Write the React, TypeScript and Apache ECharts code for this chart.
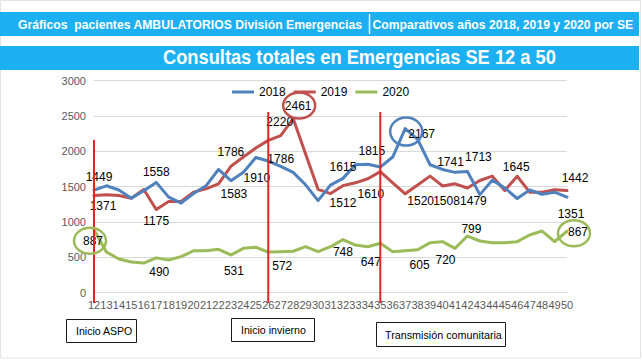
import React, { useEffect, useRef } from 'react';
import * as echarts from 'echarts';

// ---- data ----
const categories = ['12', '13', '14', '15', '16', '17', '18', '19', '20', '21', '22', '23', '24', '25', '26', '27', '28', '29', '30', '31', '32', '33', '34', '35', '36', '37', '38', '39', '40', '41', '42', '43', '44', '45', '46', '47', '48', '49', '50'];
const s2018 = [1449, 1510, 1450, 1335, 1440, 1558, 1350, 1265, 1400, 1510, 1741, 1583, 1700, 1910, 1860, 1786, 1700, 1524, 1300, 1520, 1615, 1808, 1815, 1775, 1917, 2320, 2167, 1808, 1741, 1700, 1713, 1385, 1590, 1480, 1330, 1450, 1390, 1420, 1351];
const s2019 = [1371, 1382, 1372, 1335, 1458, 1175, 1287, 1287, 1420, 1467, 1538, 1786, 1917, 2044, 2153, 2220, 2461, 1960, 1460, 1400, 1512, 1552, 1610, 1710, 1552, 1396, 1520, 1647, 1508, 1538, 1479, 1585, 1647, 1443, 1645, 1420, 1420, 1453, 1442];
const s2020 = [887, 573, 474, 432, 417, 490, 460, 507, 591, 591, 611, 531, 625, 640, 572, 577, 584, 648, 577, 648, 748, 672, 647, 696, 577, 592, 605, 705, 720, 625, 799, 729, 705, 705, 719, 814, 870, 719, 867];
const seriesNames = ['2018', '2019', '2020'];
const yMin = 0;
const yMax = 3000;
const yStep = 500;

const headerLeft = 'Gráficos  pacientes AMBULATORIOS División Emergencias';
const headerRight = 'Comparativos años 2018, 2019 y 2020 por SE';
const titleText = 'Consultas totales en Emergencias SE 12 a 50';
const markerCats = ['12', '26', '35'];
const markerNotes = ['Inicio ASPO', 'Inicio invierno', 'Transmisión comunitaria'];

// ---- styling / placement (not data) ----
const FONT = '"Liberation Sans", Arial, Helvetica, sans-serif';
const COLORS = ['#4f81bd', '#c0504d', '#9bbb59'];
const BAND = '#1cb0f2';

const labelOffsets: Record<string, [number, number]>[] = [
  { '12': [5, -13], '17': [0, -10], '23': [3, 13], '25': [1, 20], '27': [0, -7], '32': [0, -11], '34': [4, -13], '38': [4, -5], '40': [8, -7], '42': [11, -14], '50': [4, 17] },
  { '12': [9, 10], '17': [0, 12], '23': [0, -14], '27': [-1, -14], '28': [5, -13], '32': [0, 17], '34': [3, 15], '38': [3, 16], '40': [4, 15], '42': [6, 13], '46': [-1, -9], '50': [8, -13] },
  { '12': [-1, 11], '17': [3, 14], '23': [3, 16], '26': [14, 14], '32': [0, 12], '34': [3, 15], '38': [2, 15], '40': [3, 18], '42': [4, -7], '50': [11, 1] },
];
const markerTops = [140, 112, 112]; // pixel y of red markers' top
const markerBottom = 303;
const noteBoxes = [
  { x: 66, y: 319, w: 70, h: 23, tx: 76, tw: 57 },
  { x: 231, y: 318, w: 83, h: 23, tx: 241, tw: 65 },
  { x: 376, y: 322, w: 129, h: 24, tx: 385, tw: 117 },
];
const circles = [
  { s: 2, cat: '12', dx: -4, dy: 11, rx: 16, ry: 13 },
  { s: 1, cat: '28', dx: 6, dy: -13, rx: 16, ry: 13 },
  { s: 0, cat: '37', dx: 1, dy: 3, rx: 16, ry: 14 },
  { s: 2, cat: '50', dx: 7, dy: 2, rx: 16, ry: 13 },
];

const allSeries = [s2018, s2019, s2020];

function measure(text: string, font: string): number {
  const c = document.createElement('canvas').getContext('2d');
  if (!c) return text.length * 7;
  c.font = font;
  return c.measureText(text).width;
}

function fitText(text: string, left: number, width: number, cy: number, size: number, weight: string, color: string, z: number) {
  const w = measure(text, `${weight} ${size}px "Liberation Sans"`);
  const s = w > 0 ? width / w : 1;
  return {
    type: 'text',
    x: left,
    y: cy,
    scaleX: s,
    z,
    style: { text, x: 0, y: 0, fill: color, fontSize: size, fontWeight: weight, fontFamily: FONT, align: 'left', verticalAlign: 'middle' },
  };
}

export default function App() {
  const ref = useRef<HTMLDivElement>(null);
  useEffect(() => {
    if (!ref.current) return;
    const chart = echarts.init(ref.current, null, { renderer: 'svg' });
    const series = allSeries.map((arr, si) => ({
      type: 'line',
      name: seriesNames[si],
      data: arr.map((v, i) => {
        const off = labelOffsets[si][categories[i]];
        return off ? { value: v, label: { show: true, offset: off } } : v;
      }),
      symbol: 'circle',
      symbolSize: 2,
      showSymbol: true,
      showAllSymbol: true,
      itemStyle: { color: COLORS[si] },
      lineStyle: { width: 3, color: COLORS[si], cap: 'round', join: 'round' },
      label: { show: false, position: 'inside', color: '#000', fontSize: 12, fontFamily: FONT },
      emphasis: { disabled: true },
      z: 3 - si,
    }));
    chart.setOption({
      animation: false,
      backgroundColor: '#ffffff',
      grid: { left: 94, right: 75, top: 80.5, bottom: 67.5, containLabel: false },
      legend: {
        left: 227,
        top: 81,
        icon: 'rect',
        itemWidth: 22,
        itemHeight: 3,
        itemGap: 8,
        textStyle: { fontSize: 12, color: '#000', fontFamily: FONT },
        data: seriesNames,
      },
      xAxis: {
        type: 'category',
        boundaryGap: false,
        data: categories,
        axisLine: { lineStyle: { color: '#d9d9d9' } },
        axisTick: { show: false },
        axisLabel: { interval: 0, fontSize: 11, color: '#595959', margin: 7, fontFamily: FONT },
      },
      yAxis: {
        type: 'value',
        min: yMin,
        max: yMax,
        interval: yStep,
        axisLine: { show: false },
        axisTick: { show: false },
        axisLabel: { fontSize: 11, color: '#595959', margin: 8, fontFamily: FONT, formatter: (v: number) => String(v) },
        splitLine: { lineStyle: { color: '#d9d9d9' } },
      },
      series,
    });

    const px = (cat: string, v: number) => chart.convertToPixel({ gridIndex: 0 } as any, [categories.indexOf(cat), v]) as number[];
    const g: any[] = [];
    g.push({ type: 'rect', shape: { x: 0.5, y: 0.5, width: 640, height: 357.5 }, style: { fill: 'none', stroke: '#e3e3e3', lineWidth: 1 }, z: 1 });
    g.push({ type: 'rect', shape: { x: 0, y: 12, width: 639, height: 24 }, style: { fill: BAND }, z: 10 });
    g.push({ type: 'rect', shape: { x: 0, y: 46, width: 639, height: 24 }, style: { fill: BAND }, z: 10 });
    g.push({ type: 'line', shape: { x1: 369.5, y1: 14, x2: 369.5, y2: 34 }, style: { stroke: '#ffffff', lineWidth: 1.5 }, z: 20 });
    g.push(fitText(headerLeft, 18, 345, 24.5, 13, 'bold', '#ffffff', 20));
    g.push(fitText(headerRight, 372.5, 261, 24.5, 13, 'bold', '#ffffff', 20));
    g.push(fitText(titleText, 163, 393, 57.5, 20, 'bold', '#ffffff', 20));

    markerCats.forEach((cat, i) => {
      const [x] = px(cat, 0);
      g.push({ type: 'line', shape: { x1: x, y1: markerTops[i], x2: x, y2: markerBottom }, style: { stroke: '#e02424', lineWidth: 2 }, z: 30 });
      const b = noteBoxes[i];
      g.push({ type: 'rect', shape: { x: b.x + 0.5, y: b.y + 0.5, width: b.w, height: b.h }, style: { fill: '#ffffff', stroke: '#1a1a1a', lineWidth: 1 }, z: 30 });
      g.push(fitText(markerNotes[i], b.tx, b.tw, b.y + b.h / 2 + 0.5, 11, 'normal', '#000000', 35));
    });

    circles.forEach((c) => {
      const idx = categories.indexOf(c.cat);
      const [x, y] = px(c.cat, allSeries[c.s][idx]);
      g.push({ type: 'ellipse', shape: { cx: x + c.dx, cy: y + c.dy, rx: c.rx, ry: c.ry }, style: { fill: 'none', stroke: COLORS[c.s], lineWidth: 2.5 }, z: 30 });
    });

    chart.setOption({ graphic: g });
    return () => chart.dispose();
  }, []);
  return <div ref={ref} style={{ position: 'fixed', left: 0, top: 0, width: 642, height: 360, background: '#fff' }} />;
}
